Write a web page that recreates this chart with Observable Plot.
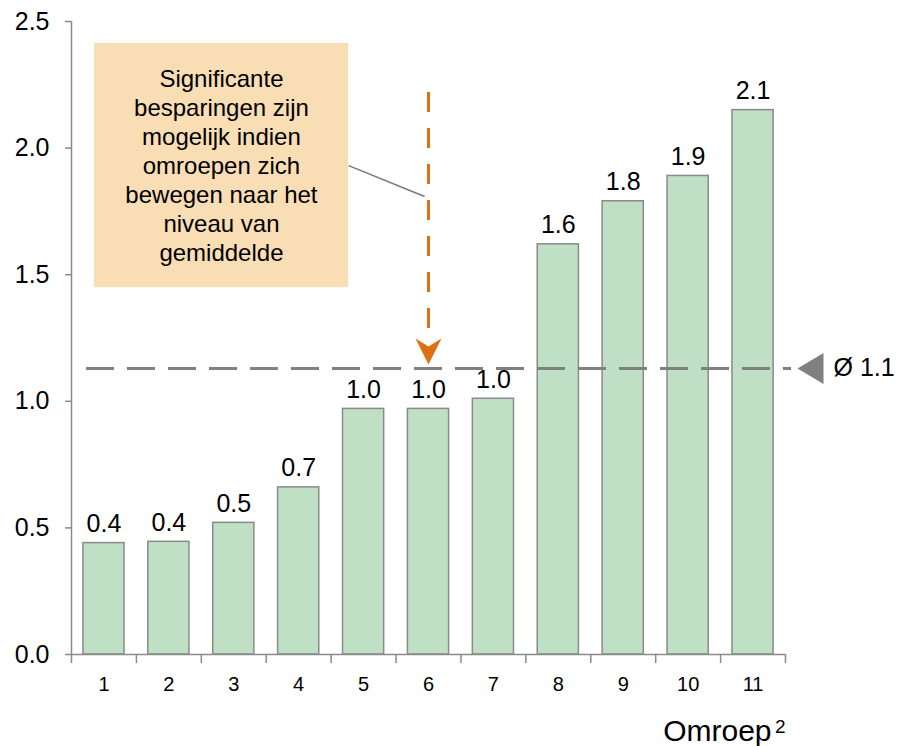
<!DOCTYPE html>
<html>
<head>
<meta charset="utf-8">
<script src="https://cdn.jsdelivr.net/npm/d3@7"></script>
<script src="https://cdn.jsdelivr.net/npm/@observablehq/plot@0.6"></script>
<style>
  html, body { margin: 0; padding: 0; background: #fff; }
  svg { font-family: "Liberation Sans", Arial, sans-serif; }
</style>
</head>
<body>
<div id="chart"></div>
<script>
const omroepen = [1, 2, 3, 4, 5, 6, 7, 8, 9, 10, 11];
const kosten = [0.44, 0.445, 0.52, 0.66, 0.97, 0.97, 1.01, 1.62, 1.79, 1.89, 2.15];
const labels = ["0.4", "0.4", "0.5", "0.7", "1.0", "1.0", "1.0", "1.6", "1.8", "1.9", "2.1"];
const gemiddelde = 1.13;
const gemiddeldeLabel = "Ø 1.1";
const yTicks = [0, 0.5, 1.0, 1.5, 2.0, 2.5];
const annotatie = "Significante\nbesparingen zijn\nmogelijk indien\nomroepen zich\nbewegen naar het\nniveau van\ngemiddelde";
const xTitel = "Omroep";
const xTitelSup = "2";

const data = omroepen.map((o, i) => ({omroep: o, waarde: kosten[i], label: labels[i]}));
const boundaries = d3.range(0.5, omroepen.length + 1, 1);

const arrowHead = {
  draw(ctx) {
    ctx.moveTo(0, 13);
    ctx.lineTo(-13, -13);
    ctx.lineTo(0, -5);
    ctx.lineTo(13, -13);
    ctx.closePath();
  }
};
const leftTriangle = {
  draw(ctx) {
    ctx.moveTo(-13, 0);
    ctx.lineTo(13, -15.5);
    ctx.lineTo(13, 15.5);
    ctx.closePath();
  }
};

const gray = "#8a8a8a";
const orange = "#e0700f";

const chart = Plot.plot({
  width: 899,
  height: 746,
  marginTop: 21,
  marginLeft: 71,
  marginRight: 114,
  marginBottom: 92,
  style: {fontFamily: "Liberation Sans, Arial, sans-serif", background: "#fff", color: "#000"},
  x: {type: "linear", domain: [0.5, 11.5]},
  y: {domain: [0, 2.5]},
  marks: [
    // annotation box
    Plot.rect([annotatie], {x1: 0.854, x2: 4.77, y1: 1.449, y2: 2.413, fill: "#f9ddb5"}),
    Plot.text([annotatie], {x: 2.81, y: 1.935, text: d => d, fontSize: 24, lineHeight: 1.208, fill: "#000", textAnchor: "middle"}),
    Plot.link([annotatie], {x1: 4.77, y1: 1.931, x2: 5.94, y2: 1.809, stroke: "#777", strokeWidth: 1.5}),
    // bars
    Plot.rect(data, {x1: d => d.omroep - 0.317, x2: d => d.omroep + 0.317, y1: 0, y2: "waarde", fill: "#bfe0c5", stroke: gray, strokeWidth: 1.5}),
    Plot.text(data, {x: "omroep", y: "waarde", text: "label", dy: -19, fontSize: 25, fill: "#000"}),
    // average line
    Plot.ruleY([gemiddelde], {x1: 0.5, x2: 11.5, insetLeft: 15, insetRight: -6, stroke: "#808080", strokeWidth: 3, strokeDasharray: "28,13"}),
    Plot.dot([gemiddelde], {x: 11.5, y: d => d, dx: 25, symbol: leftTriangle, fill: "#808080", stroke: null}),
    Plot.text([gemiddeldeLabel], {x: 11.5, y: gemiddelde, dx: 48, text: d => d, textAnchor: "start", fontSize: 25, fill: "#000"}),
    // orange arrow
    Plot.ruleX([6], {y1: 2.22, y2: 1.23, stroke: orange, strokeWidth: 3, strokeDasharray: "20,16"}),
    Plot.dot([6], {x: d => d, y: 1.145, dy: -13, symbol: arrowHead, fill: orange, stroke: null}),
    // axes
    Plot.ruleX([0.5], {y1: 0, y2: 2.5, stroke: gray, strokeWidth: 1.5}),
    Plot.ruleY([0], {x1: 0.5, x2: 11.5, stroke: gray, strokeWidth: 1.5}),
    Plot.axisY({ticks: yTicks, tickFormat: d => d.toFixed(1), tickSize: 6, tickPadding: 16, fontSize: 25, stroke: gray, strokeWidth: 1.5, strokeOpacity: 1, fill: "#000", label: null}),
    Plot.axisX({ticks: boundaries, tickFormat: () => "", tickSize: 9, stroke: gray, strokeWidth: 1.5, strokeOpacity: 1, label: null}),
    Plot.axisX({ticks: omroepen, tickFormat: d => String(d), tickSize: 0, tickPadding: 22, fontSize: 20, fill: "#000", label: null}),
    Plot.text([xTitel], {frameAnchor: "bottom-right", text: d => d, dx: -14, dy: 86, lineAnchor: "bottom", fontSize: 30, fill: "#000", textAnchor: "end"}),
    Plot.text([xTitelSup], {frameAnchor: "bottom-right", text: d => d, dy: 78, lineAnchor: "bottom", fontSize: 19, fill: "#000", textAnchor: "end"})
  ]
});
document.getElementById("chart").appendChild(chart);
</script>
</body>
</html>
